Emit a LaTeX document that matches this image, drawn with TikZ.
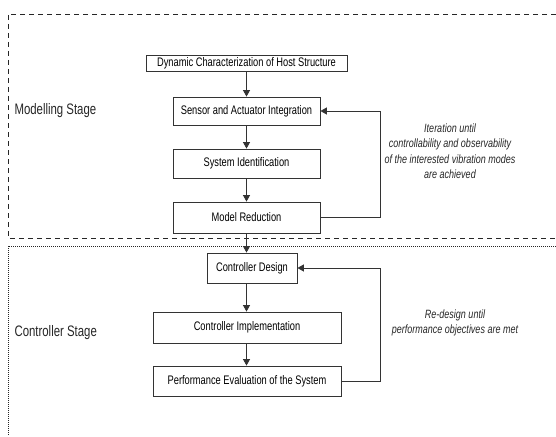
\documentclass[tikz,border=0pt]{standalone}
\usepackage{fontspec}
\setmainfont[FakeStretch=0.75]{Liberation Sans}
\usepackage{tikz}
\usetikzlibrary{positioning,arrows.meta,calc}
\tikzset{
  flowarrow/.style={-{Triangle[length=6.5pt,width=7pt]}, line width=0.9pt, draw=black!80},
  stepbox/.style={draw=black!80, line width=0.8pt, fill=white, inner sep=0pt, align=center, font=\fontsize{12.4}{14}\selectfont},
  stagelabel/.style={anchor=west, font=\fontsize{15.2}{17}\selectfont, text=black!85},
  note/.style={align=center, font=\fontsize{12}{15.5}\selectfont\itshape, text=black!85}
}

\begin{document}
\begin{tikzpicture}[x=1pt, y=-1pt]
      \useasboundingbox (0,0) rectangle (556,436);
      % stage frames
      \draw[black!85, line width=0.8pt, dash pattern=on 5pt off 4pt] (556,14) -- (8,14) -- (8,238) -- (556,238);
      \draw[black!85, line width=0.8pt, dash pattern=on 1pt off 1pt] (556,246) -- (8,246) -- (8,436);
      % modelling stage
      \node[stepbox, minimum width=201pt, minimum height=16pt] (dyn) at (246.5,63) {Dynamic Characterization of Host Structure};
      \node[stepbox, minimum width=147pt, minimum height=28pt] (sens) at (246.5,111) {Sensor and Actuator Integration};
      \node[stepbox, minimum width=147pt, minimum height=29pt] (sysid) at (246.5,163.5) {System Identification};
      \node[stepbox, minimum width=147pt, minimum height=31pt] (model) at (246.5,217.5) {Model Reduction};
      % controller stage
      \node[stepbox, minimum width=90pt, minimum height=30pt] (design) at (252,268) {Controller Design};
      \node[stepbox, minimum width=188pt, minimum height=31pt] (impl) at (247,327.5) {Controller Implementation};
      \node[stepbox, minimum width=188pt, minimum height=30pt] (perf) at (247,381) {Performance Evaluation of the System};
      \node[stagelabel] (modlabel) at (11,111) {Modelling Stage};
      \node[stagelabel] (ctrllabel) at (11,333) {Controller Stage};
      \node[note] (iternote) at (450,151) {Iteration until\\controllability and observability\\of the interested vibration modes\\are achieved};
      \node[note] (redonote) at (455,323) {Re-design until\\performance objectives are met};
      \draw[flowarrow] (dyn.south) -- (sens.north);
      \draw[flowarrow] (sens.south) -- (sysid.north);
      \draw[flowarrow] (sysid.south) -- (model.north);
      \draw[flowarrow] (model.south) -- (model.south |- design.north);
      \draw[flowarrow] (design.south -| model.south) -- (model.south |- impl.north);
      \draw[flowarrow] (impl.south -| model.south) -- (model.south |- perf.north);
      % feedback loops
      \draw[flowarrow] (model.east) -- ++(60,0) |- (sens.east);
      \draw[flowarrow] (perf.east) -- ++(39,0) |- (design.east);
    \end{tikzpicture}
\end{document}
